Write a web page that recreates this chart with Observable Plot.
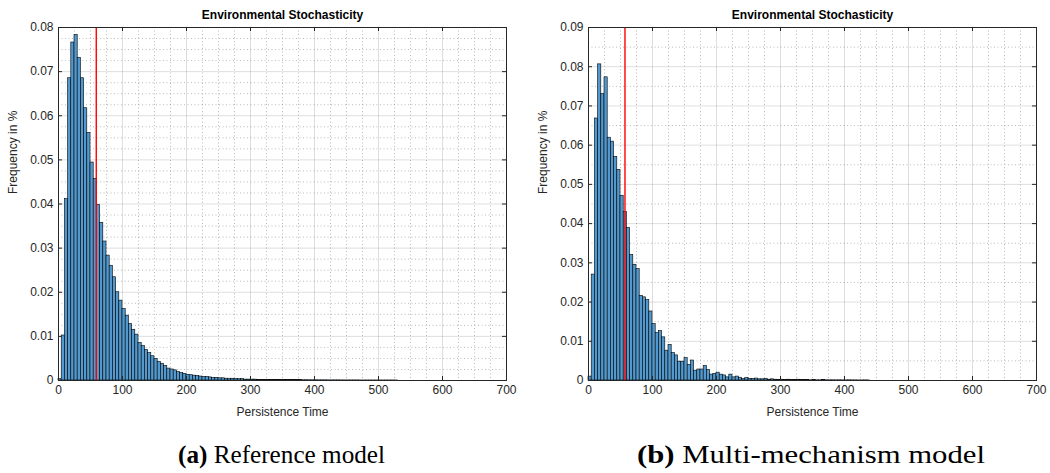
<!DOCTYPE html>
<html><head><meta charset="utf-8">
<script src="https://cdn.jsdelivr.net/npm/d3@7"></script>
<script src="https://cdn.jsdelivr.net/npm/@observablehq/plot@0.6"></script>
<style>
body{margin:0;background:#fff;}
#wrap{position:relative;width:1050px;height:473px;overflow:hidden;background:#fff}
.panel{position:absolute;top:0}
#caps{position:absolute;left:0;top:425px}
</style></head><body><div id="wrap"></div>
<script>
const binWidth = 5;
// Frequency per 5-unit bin, starting at 0 (Reference model)
const leftFreq = [
0.0003, 0.0102, 0.0411, 0.0685, 0.0766, 0.0783, 0.0731, 0.0685, 0.0617, 0.0561,
0.0494, 0.0457, 0.0398, 0.0357, 0.0315, 0.0283, 0.0260, 0.0234, 0.0200, 0.0181,
0.0162, 0.0147, 0.0128, 0.0115, 0.0104, 0.0085, 0.0078, 0.0069, 0.0062, 0.0055,
0.0049, 0.0042, 0.0038, 0.0033, 0.0027, 0.0025, 0.0023, 0.0019, 0.0017, 0.0015,
0.0013, 0.0012, 0.0011, 0.0010, 0.0009, 0.0008, 0.0008, 0.0007, 0.0006, 0.0006,
0.0005, 0.0005, 0.0004, 0.0004, 0.0004, 0.0003, 0.0003, 0.0003, 0.0002, 0.0002,
0.0002, 0.0002, 0.00015, 0.00015, 0.00015, 0.00012, 0.00012, 0.0001, 0.0001, 0.0001,
0.0001, 0.00009, 0.00008, 0.00008, 0.00007, 0.00007, 0.00006, 0.00006, 0.00005, 0.00005,
0.00005, 0.00004, 0.00004, 0.00004, 0.00003, 0.00003, 0.00003, 0.00003, 0.00002, 0.00002,
0.00002, 0.00002, 0.00002, 0.00002, 0.00001, 0.00001, 0.00001, 0.00001, 0.00001, 0.00001,
0.00001, 0.00001, 0.00001, 0.00001, 0.00001, 0.00001
];
// Frequency per 5-unit bin, starting at 0 (Multi-mechanism model)
const rightFreq = [
0.0010, 0.0270, 0.0668, 0.0806, 0.0730, 0.0773, 0.0619, 0.0609, 0.0570, 0.0537,
0.0471, 0.0430, 0.0389, 0.0320, 0.0295, 0.0284, 0.0216, 0.0212, 0.0205, 0.0176,
0.0144, 0.0121, 0.0126, 0.0110, 0.0076, 0.0091, 0.0070, 0.0064, 0.0048, 0.0048,
0.0057, 0.0040, 0.0051, 0.0025, 0.0028, 0.0028, 0.0037, 0.0027, 0.0015, 0.0017,
0.0020, 0.0015, 0.0013, 0.0008, 0.0015, 0.0008, 0.0010, 0.0007, 0.0004, 0.0006,
0.0004, 0.0004, 0.0005, 0.0003, 0.0003, 0.0004, 0.0002, 0.0003, 0.0002, 0.0001,
0.0002, 0.0001, 0.0002, 0.0001, 0.0001, 0.0002, 0.0001, 0.0001, 0.0001, 0.00005,
0.0001, 0.00005, 0.00005, 0.0001, 0.00005, 0.00005, 0.00005, 0.00003, 0.00005, 0.00003,
0.00003, 0.00005, 0.00003, 0.00003, 0.00002, 0.00002, 0.00003, 0.00002
];
const leftMarker = 59;
const rightMarker = 57;
const xTicks = [0, 100, 200, 300, 400, 500, 600, 700];
const xMinor = [25, 50, 75, 125, 150, 175, 225, 250, 275, 325, 350, 375, 425, 450, 475, 525, 550, 575, 625, 650, 675];
const leftYTicks = [0, 0.01, 0.02, 0.03, 0.04, 0.05, 0.06, 0.07, 0.08];
const leftYMinor = [0.0025, 0.005, 0.0075, 0.0125, 0.015, 0.0175, 0.0225, 0.025, 0.0275, 0.0325, 0.035, 0.0375, 0.0425, 0.045, 0.0475, 0.0525, 0.055, 0.0575, 0.0625, 0.065, 0.0675, 0.0725, 0.075, 0.0775];
const rightYTicks = [0, 0.01, 0.02, 0.03, 0.04, 0.05, 0.06, 0.07, 0.08, 0.09];
const rightYMinor = [0.005, 0.015, 0.025, 0.035, 0.045, 0.055, 0.065, 0.075, 0.085];
const panelTitle = "Environmental Stochasticity";
const xLabel = "Persistence Time";
const yLabel = "Frequency in %";
const captionTags = ["(a)", "(b)"];
const captionTexts = ["Reference model", "Multi-mechanism model"];

function panel({freq, marker, yMax, yTicks, yMinor, ml, mr}) {
  const W = 525, H = 425, mt = 27, mb = 45;
  const iw = W - ml - mr, ih = H - mt - mb;
  const bins = freq.map((v, i) => ({x1: i * binWidth, x2: (i + 1) * binWidth, y: v}));
  const ink = "#262626";
  return Plot.plot({
    width: W, height: H, marginLeft: ml, marginRight: mr, marginTop: mt, marginBottom: mb,
    style: {fontFamily: '"Liberation Sans", Arial, sans-serif', fontSize: "12px", color: ink, background: "white", overflow: "visible"},
    x: {domain: [0, 700], axis: null},
    y: {domain: [0, yMax], axis: null},
    marks: [
      Plot.gridX(xMinor, {stroke: "#8c8c8c", strokeOpacity: 0.75, strokeDasharray: "1,2.5", strokeWidth: 0.8}),
      Plot.gridY(yMinor, {stroke: "#8c8c8c", strokeOpacity: 0.75, strokeDasharray: "1,2.5", strokeWidth: 0.8}),
      Plot.gridX(xTicks, {stroke: "#000", strokeOpacity: 0.13}),
      Plot.gridY(yTicks, {stroke: "#000", strokeOpacity: 0.13}),
      Plot.rectY(bins, {x1: "x1", x2: "x2", y: "y", fill: "#5299cf", stroke: "#000", strokeWidth: 0.6}),
      Plot.ruleX([marker], {stroke: "#ff0000", strokeWidth: 1.4}),
      Plot.tickX(xTicks, {insetTop: ih - 4, stroke: ink}),
      Plot.tickX(xTicks, {insetBottom: ih - 4, stroke: ink}),
      Plot.tickY(yTicks, {insetRight: iw - 4, stroke: ink}),
      Plot.tickY(yTicks, {insetLeft: iw - 4, stroke: ink}),
      Plot.frame({stroke: ink}),
      Plot.axisX(xTicks, {tickSize: 0, tickPadding: 5, label: null, fill: ink, fontSize: 12, tickFormat: d => String(d)}),
      Plot.axisY(yTicks, {tickSize: 0, tickPadding: 5, label: null, fill: ink, fontSize: 12, tickFormat: d => d === 0 ? "0" : d.toFixed(2)}),
      Plot.text([xLabel], {frameAnchor: "bottom", dy: 32, lineAnchor: "middle", fill: ink, fontSize: 12}),
      Plot.text([yLabel], {frameAnchor: "left", dx: -45, dy: -10, rotate: -90, lineAnchor: "middle", fill: ink, fontSize: 12}),
      Plot.text([panelTitle], {frameAnchor: "top", dy: -12, lineAnchor: "middle", fontWeight: "bold", fill: "#000", fontSize: 12})
    ]
  });
}

const wrap = document.getElementById("wrap");
const p1 = panel({freq: leftFreq, marker: leftMarker, yMax: 0.08, yTicks: leftYTicks, yMinor: leftYMinor, ml: 58, mr: 19});
p1.classList.add("panel"); p1.style.left = "0px";
const p2 = panel({freq: rightFreq, marker: rightMarker, yMax: 0.09, yTicks: rightYTicks, yMinor: rightYMinor, ml: 63, mr: 14});
p2.classList.add("panel"); p2.style.left = "525px";
wrap.appendChild(p1); wrap.appendChild(p2);

// Sub-figure captions
const ns = "http://www.w3.org/2000/svg";
const caps = document.createElementNS(ns, "svg");
caps.setAttribute("id", "caps");
caps.setAttribute("width", 1050);
caps.setAttribute("height", 48);
const capLeft = [178, 637];
const capWidth = [207, 348];
captionTags.forEach((tag, i) => {
  const t = document.createElementNS(ns, "text");
  t.setAttribute("x", capLeft[i]);
  t.setAttribute("y", 38);
  t.setAttribute("font-family", '"Liberation Serif","Times New Roman",serif');
  t.setAttribute("font-size", 25);
  t.setAttribute("fill", "#000");
  t.setAttribute("textLength", capWidth[i]);
  t.setAttribute("lengthAdjust", "spacingAndGlyphs");
  const b = document.createElementNS(ns, "tspan");
  b.setAttribute("font-weight", "bold");
  b.textContent = tag;
  const r = document.createElementNS(ns, "tspan");
  r.textContent = " " + captionTexts[i];
  t.appendChild(b); t.appendChild(r);
  caps.appendChild(t);
});
wrap.appendChild(caps);
</script></body></html>
